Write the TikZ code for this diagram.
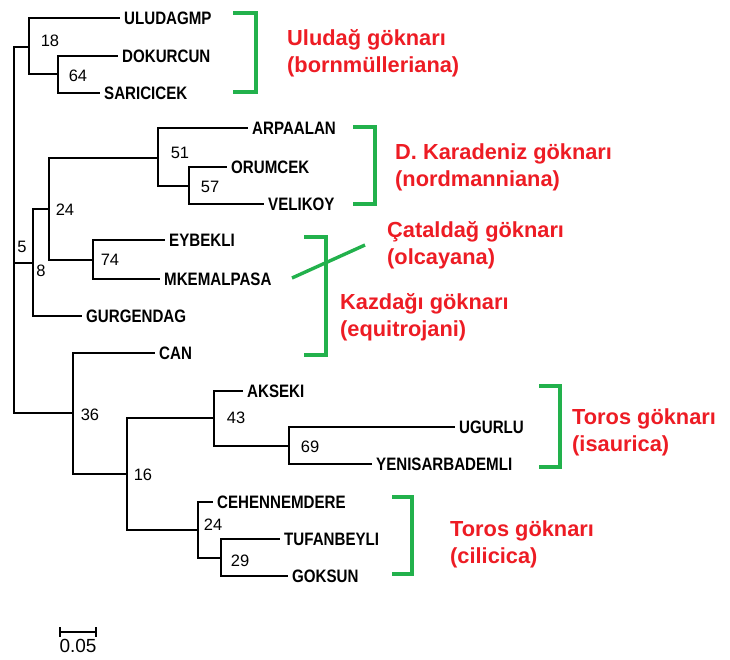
\documentclass[tikz,border=0pt]{standalone}
\usepackage{fontspec}
\setmainfont{Liberation Sans}
\newfontfamily\leaffont[FakeStretch=0.84]{Liberation Sans}
\definecolor{cladered}{RGB}{237,28,36}
\definecolor{bracketgreen}{RGB}{34,177,76}
\tikzset{
  branch/.style={line width=2.4pt},
  leaf/.style={anchor=west, inner xsep=4pt, inner ysep=0pt,
    font=\leaffont\bfseries\fontsize{18}{18}\selectfont},
  boot/.style={inner sep=0pt, font=\fontsize{16.5}{16.5}\selectfont},
  clade/.style={anchor=west, inner sep=0pt, align=left, text=cladered,
    font=\bfseries\fontsize{21.8}{27}\selectfont},
  bracket/.style={draw=bracketgreen, line width=3.4pt}
}
\begin{document}
\begin{tikzpicture}[x=1pt, y=-1pt]
  \useasboundingbox (0,0) rectangle (730,659);

  % inner nodes of the tree
  \coordinate (root) at (14,263);
  \coordinate (cUlu) at (29,47);
  \coordinate (cDS) at (58,74);
  \coordinate (cMid) at (33,263);
  \coordinate (cA) at (49,209);
  \coordinate (cB) at (158,158);
  \coordinate (cOV) at (189,186);
  \coordinate (cE) at (93,260);
  \coordinate (cBot) at (73,413);
  \coordinate (cF) at (127,474);
  \coordinate (cG) at (214,418);
  \coordinate (cUY) at (289,446);
  \coordinate (cH) at (198,530);
  \coordinate (cTG) at (221,558);

  % leaves
  \node[leaf] (uludagmp) at (120,18) {ULUDAGMP};
  \node[leaf] (dokurcun) at (118,56) {DOKURCUN};
  \node[leaf] (saricicek) at (100,93) {SARICICEK};
  \node[leaf] (arpaalan) at (248,128) {ARPAALAN};
  \node[leaf] (orumcek) at (227,167) {ORUMCEK};
  \node[leaf] (velikoy) at (264,204) {VELIKOY};
  \node[leaf] (eybekli) at (165,240) {EYBEKLI};
  \node[leaf] (mkemalpasa) at (160,279) {MKEMALPASA};
  \node[leaf] (gurgendag) at (82,316) {GURGENDAG};
  \node[leaf] (can) at (155,353) {CAN};
  \node[leaf] (akseki) at (243,391) {AKSEKI};
  \node[leaf] (ugurlu) at (455,427) {UGURLU};
  \node[leaf] (yenisarbademli) at (372,464) {YENISARBADEMLI};
  \node[leaf] (cehennemdere) at (213,502) {CEHENNEMDERE};
  \node[leaf] (tufanbeyli) at (280,539) {TUFANBEYLI};
  \node[leaf] (goksun) at (288,576) {GOKSUN};

  % branches
  \draw[branch] (root) |- (cUlu);
  \draw[branch] (root) |- (cMid);
  \draw[branch] (root) |- (cBot);
  \draw[branch] (cUlu) |- (uludagmp.west);
  \draw[branch] (cUlu) |- (cDS);
  \draw[branch] (cDS) |- (dokurcun.west);
  \draw[branch] (cDS) |- (saricicek.west);
  \draw[branch] (cMid) |- (cA);
  \draw[branch] (cMid) |- (gurgendag.west);
  \draw[branch] (cA) |- (cB);
  \draw[branch] (cA) |- (cE);
  \draw[branch] (cB) |- (arpaalan.west);
  \draw[branch] (cB) |- (cOV);
  \draw[branch] (cOV) |- (orumcek.west);
  \draw[branch] (cOV) |- (velikoy.west);
  \draw[branch] (cE) |- (eybekli.west);
  \draw[branch] (cE) |- (mkemalpasa.west);
  \draw[branch] (cBot) |- (can.west);
  \draw[branch] (cBot) |- (cF);
  \draw[branch] (cF) |- (cG);
  \draw[branch] (cF) |- (cH);
  \draw[branch] (cG) |- (akseki.west);
  \draw[branch] (cG) |- (cUY);
  \draw[branch] (cUY) |- (ugurlu.west);
  \draw[branch] (cUY) |- (yenisarbademli.west);
  \draw[branch] (cH) |- (cehennemdere.west);
  \draw[branch] (cH) |- (cTG);
  \draw[branch] (cTG) |- (tufanbeyli.west);
  \draw[branch] (cTG) |- (goksun.west);

  % bootstrap values
  \node[boot] (bUlu) at (50,41) {18};
  \node[boot] (bDS) at (78,76) {64};
  \node[boot] (bRoot) at (22,247) {5};
  \node[boot] (bMid) at (41,271) {8};
  \node[boot] (bA) at (65,210) {24};
  \node[boot] (bB) at (180,153) {51};
  \node[boot] (bOV) at (210,187) {57};
  \node[boot] (bE) at (110,260) {74};
  \node[boot] (bBot) at (90,415) {36};
  \node[boot] (bF) at (143,475) {16};
  \node[boot] (bG) at (236,418) {43};
  \node[boot] (bUY) at (310,447) {69};
  \node[boot] (bH) at (213,525) {24};
  \node[boot] (bTG) at (240,561) {29};

  % scale bar
  \coordinate (sbl) at (60,632);
  \coordinate (sbr) at (96,632);
  \draw[line width=2.6pt] (sbl) -- (sbr);
  \draw[line width=2.6pt] (sbl) ++(0,-5) -- ++(0,10);
  \draw[line width=2.6pt] (sbr) ++(0,-5) -- ++(0,10);
  \node[boot, font=\fontsize{19}{19}\selectfont] (sblabel) at (78,646) {0.05};

  % green brackets
  \draw[bracket] (233,13) -- (256,13) -- (256,92) -- (233,92);
  \draw[bracket] (353,127) -- (375,127) -- (375,204) -- (353,204);
  \draw[bracket] (304,237) -- (326,237) -- (326,355) -- (304,355);
  \draw[bracket] (292,278) -- (365,245);
  \draw[bracket] (539,386) -- (560,386) -- (560,467) -- (539,467);
  \draw[bracket] (392,497) -- (412,497) -- (412,574) -- (392,574);

  % species names
  \node[clade] (uludag) at (287,53) {Uludağ göknarı\\(bornmülleriana)};
  \node[clade] (karadeniz) at (395,167) {D. Karadeniz göknarı\\(nordmanniana)};
  \node[clade] (cataldag) at (387,245) {Çataldağ göknarı\\(olcayana)};
  \node[clade] (kazdagi) at (340,317) {Kazdağı göknarı\\(equitrojani)};
  \node[clade] (isaurica) at (572,432) {Toros göknarı\\(isaurica)};
  \node[clade] (cilicica) at (450,544) {Toros göknarı\\(cilicica)};
\end{tikzpicture}
\end{document}
